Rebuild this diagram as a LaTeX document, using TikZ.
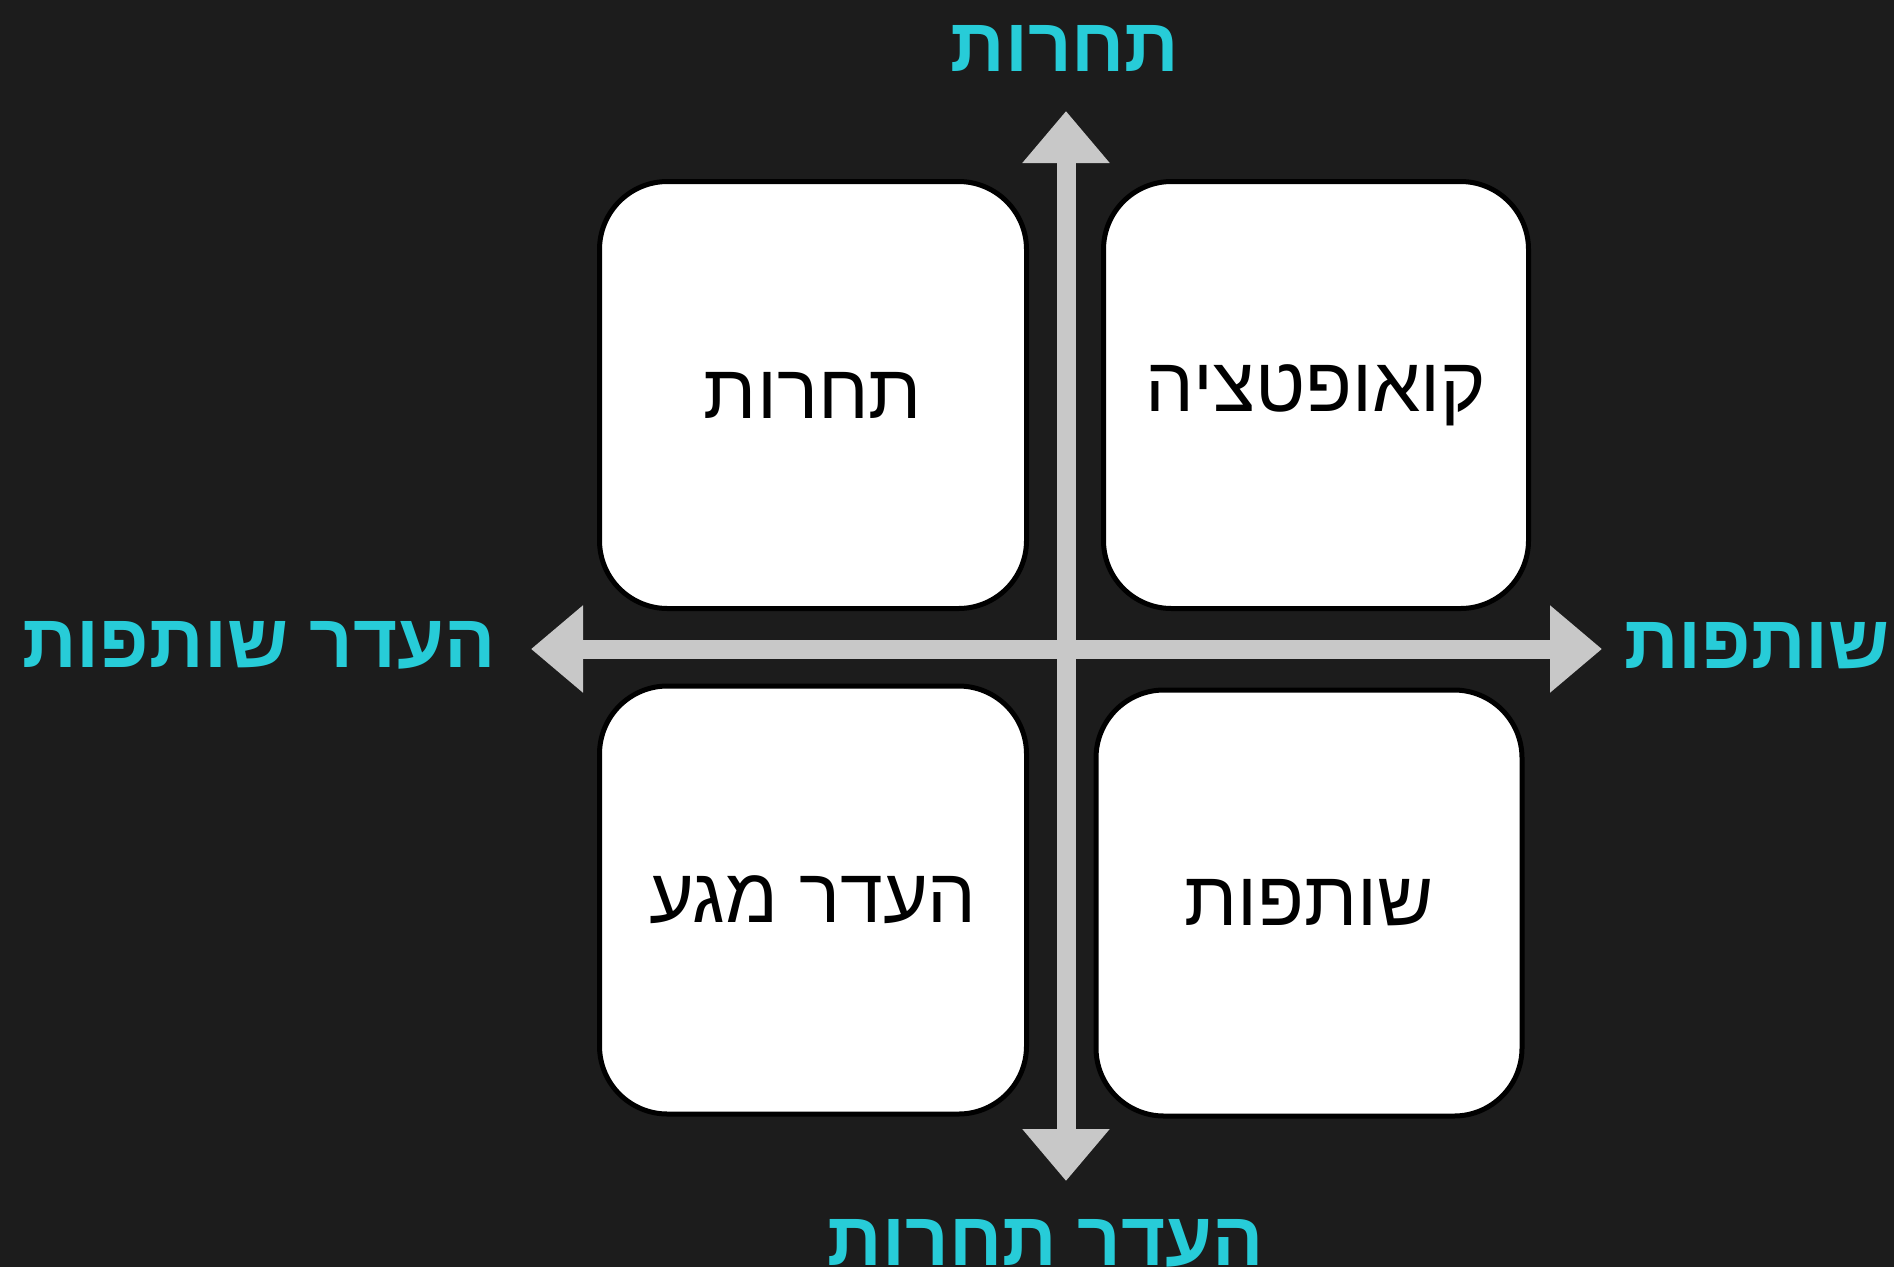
\documentclass[tikz,border=0pt]{standalone}
\usepackage{fontspec}
\setmainfont{Liberation Sans}
\newfontfamily\heb[Script=Hebrew]{Liberation Sans}
\TeXXeTstate=1
\usetikzlibrary{arrows.meta}
\definecolor{bg}{HTML}{1C1C1C}
\definecolor{axisgray}{HTML}{C8C8C8}
\definecolor{labcyan}{HTML}{27CCD8}
\begin{document}
\begin{tikzpicture}[x=1pt,y=-1pt,
  quad/.style={draw=black, line width=5pt, fill=white, rounded corners=68pt, inner sep=0pt},
  boxtext/.style={font=\heb\fontsize{77}{85}\selectfont, text=black},
  axlabel/.style={font=\heb\bfseries\fontsize{76}{84}\selectfont, text=labcyan, inner sep=0pt},
  axisline/.style={draw=axisgray, line width=19pt, {Triangle[width=84pt,length=52pt]}-{Triangle[width=84pt,length=52pt]}}]
\fill[bg] (0,0) rectangle (1894,1267);
\useasboundingbox (0,0) rectangle (1894,1267);
% axes
\coordinate (vtop) at (1066,111);
\coordinate (vbot) at (1066,1181);
\coordinate (hleft) at (531,649);
\coordinate (hright) at (1602,649);
\draw[axisline] (hleft) -- (hright);
\draw[axisline] (vbot) -- (vtop);
% quadrants
\node[quad, boxtext, minimum width=427pt, minimum height=427pt] (tl) at (813,395) {\beginR תחרות\endR};
\node[quad, boxtext, minimum width=425pt, minimum height=427pt] (tr) at (1316,395) {\beginR קואופטציה\endR};
\node[quad, boxtext, minimum width=427pt, minimum height=428pt] (bl) at (813,900) {\beginR העדר מגע\endR};
\node[quad, boxtext, minimum width=426pt, minimum height=426pt] (br) at (1309,903) {\beginR שותפות\endR};
% axis labels
\node[axlabel] (ltop) at (1065,48) {\beginR תחרות\endR};
\node[axlabel] (lbot) at (1046,1243) {\beginR העדר תחרות\endR};
\node[axlabel] (lleft) at (259,645) {\beginR העדר שותפות\endR};
\node[axlabel] (lright) at (1757,646) {\beginR שותפות\endR};
\end{tikzpicture}
\end{document}
